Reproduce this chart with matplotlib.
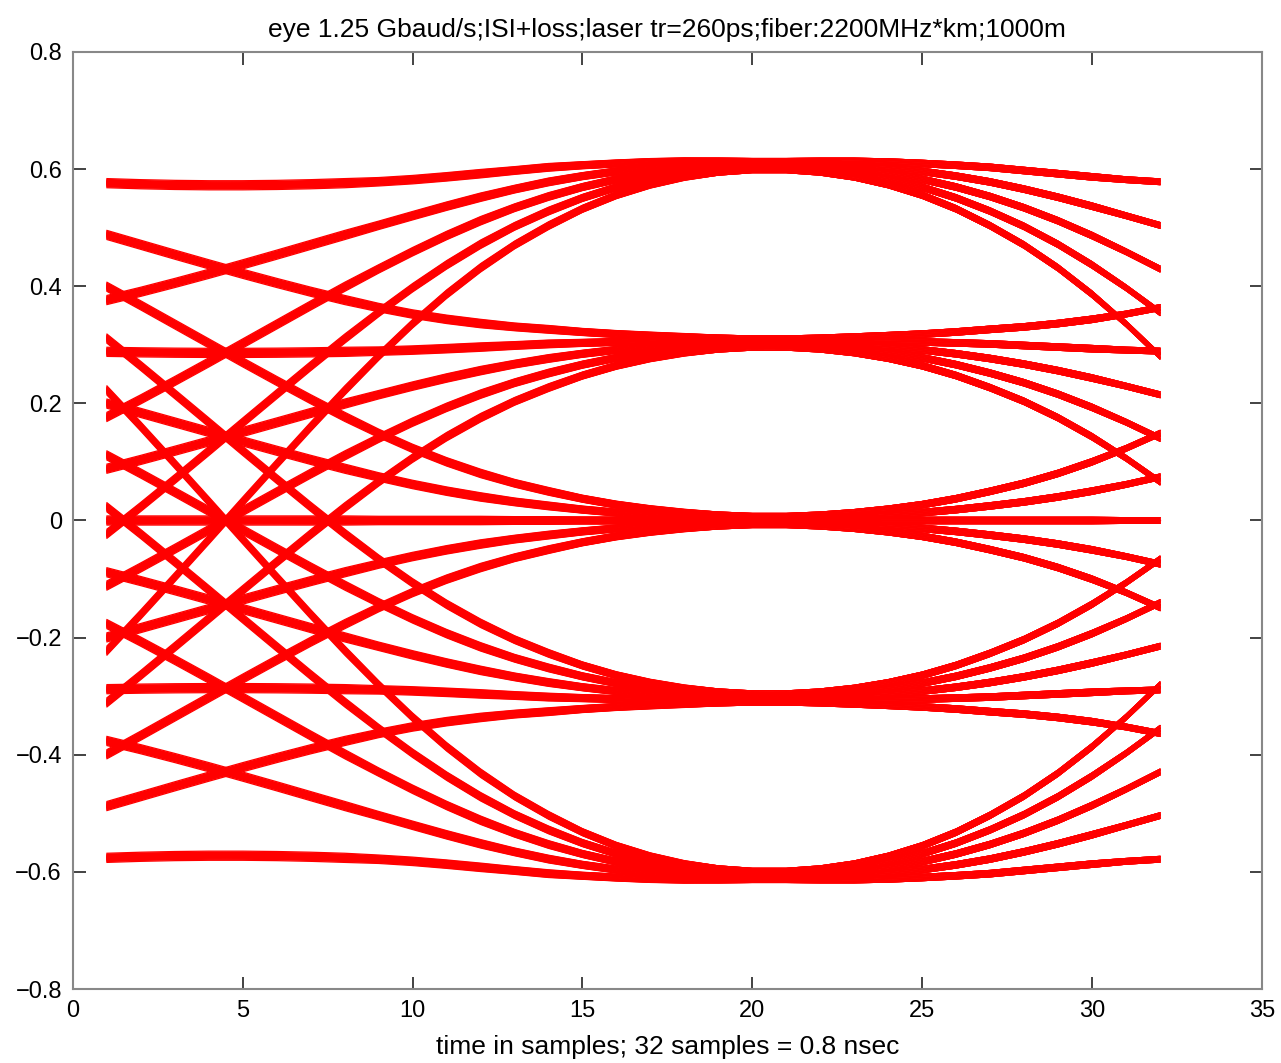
import itertools
import numpy as np
import matplotlib
matplotlib.use("Agg")
import matplotlib.pyplot as plt

# ---- data ----
title = "eye 1.25 Gbaud/s;ISI+loss;laser tr=260ps;fiber:2200MHz*km;1000m"
xlabel = "time in samples; 32 samples = 0.8 nsec"

# symbol levels (values at the eye centre)
levels = [-0.6, -0.3, 0.0, 0.3, 0.6]
# samples shown per trace
samples = list(range(1, 33))
samples_per_symbol = 32
symbol_centre = 20.5
# received pulse, at |offset| = 0.5, 1.5, 2.5, ... samples
pulse = [1.010, 1.007, 1.000, 0.988, 0.971, 0.949, 0.922, 0.890, 0.853, 0.811,
         0.765, 0.716, 0.665, 0.612, 0.558, 0.504, 0.450, 0.397, 0.345, 0.295,
         0.248, 0.205, 0.167, 0.134, 0.106, 0.083, 0.062, 0.045, 0.032, 0.022,
         0.015, 0.011, 0.009, 0.009, 0.009, 0.009, 0.009, 0.009, 0.009, 0.009,
         0.009, 0.009, 0.008, 0.008, 0.008, 0.008, 0.007, 0.007, 0.006, 0.006,
         0.005, 0.005, 0.004, 0.004, 0.003, 0.003, 0.002, 0.002, 0.001, 0.001,
         0.001, 0.001, 0.000, 0.000, 0.000, 0.000, 0.000, 0.000, 0.000, 0.000,
         0.000, 0.000, 0.000, 0.000, 0.000, 0.000, 0.000]
# symbol slots relative to the centre symbol that touch the window
symbol_slots = [-2, -1, 0, 1]

xticks = [0, 5, 10, 15, 20, 25, 30, 35]
yticks = [-0.8, -0.6, -0.4, -0.2, 0, 0.2, 0.4, 0.6, 0.8]
yticklabels = ["\u22120.8", "\u22120.6", "\u22120.4", "\u22120.2", "0", "0.2", "0.4", "0.6", "0.8"]

# ---- build traces ----
x = np.array(samples, dtype=float)
pulse = np.array(pulse)


def pulse_at(offset):
    idx = (np.abs(offset) - 0.5).astype(int)
    idx = np.clip(idx, 0, len(pulse) - 1)
    return pulse[idx]


fig = plt.figure(figsize=(12.81, 10.63), dpi=100)
ax = fig.add_axes([0.057, 0.0696, 0.928, 0.8815])

fam = ["Liberation Sans", "DejaVu Sans"]

for combo in itertools.product(levels, repeat=len(symbol_slots)):
    y = np.zeros_like(x)
    for slot, lev in zip(symbol_slots, combo):
        y += lev * pulse_at(x - (symbol_centre + slot * samples_per_symbol))
    ax.plot(x, y, color="#ff0000", lw=0.9)

ax.set_xlim(0, 35)
ax.set_ylim(-0.8, 0.8)
ax.set_xticks(xticks)
ax.set_xticklabels([str(t) for t in xticks], family=fam, fontsize=17)
ax.set_yticks(yticks)
ax.set_yticklabels(yticklabels, family=fam, fontsize=17)
ax.tick_params(direction="in", length=9, width=1.2, top=True, right=True,
               color="#222222", pad=8)
for s in ax.spines.values():
    s.set_color("#888888")
    s.set_linewidth(1.5)
ax.set_title(title, family=fam, fontsize=19, pad=11)
ax.set_xlabel(xlabel, family=fam, fontsize=19, labelpad=9)

fig.savefig("out.png", dpi=100)
